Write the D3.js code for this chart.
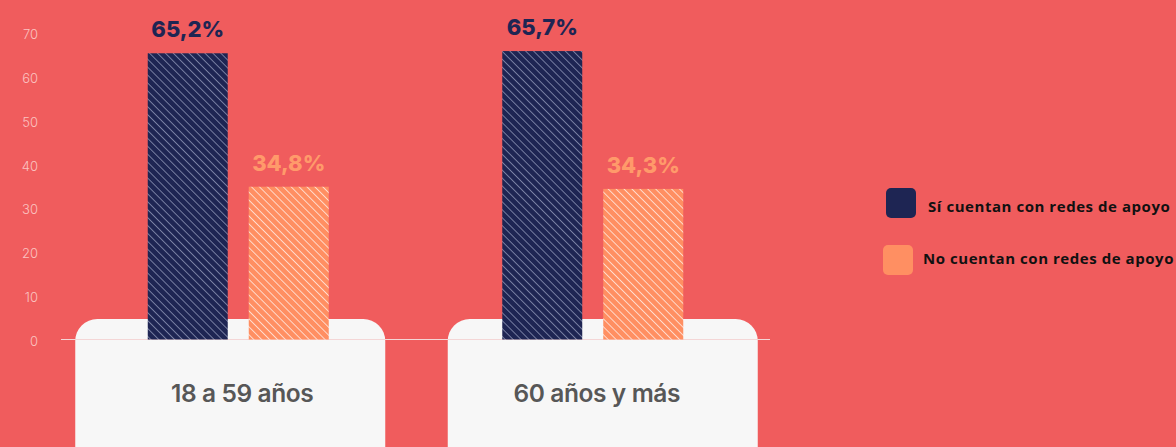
<!DOCTYPE html>
<html>
<head>
<meta charset="utf-8">
<script src="https://cdn.jsdelivr.net/npm/d3@7/dist/d3.min.js"></script>
<style>
  html, body { margin: 0; padding: 0; background: #f05c5d; }
  svg { display: block; }
</style>
</head>
<body>
<svg id="chart" width="1176" height="447"></svg>
<script>
// Age groups and the share of people with / without support networks (%)
const categories = ["18 a 59 años", "60 años y más"];
const seriesNames = ["Sí cuentan con redes de apoyo", "No cuentan con redes de apoyo"];
const siValues = [65.2, 65.7];
const noValues = [34.8, 34.3];
const valueLabels = [["65,2%", "34,8%"], ["65,7%", "34,3%"]];
const yTicks = [0, 10, 20, 30, 40, 50, 60, 70];

const W = 1176, H = 447;
const colors = { bg: "#f05c5d", navy: "#1e2553", orange: "#ff8f62", orangeText: "#ff9a6a",
                 card: "#f7f7f7", tick: "#fbc3c1" };
const font = "Inter, 'Open Sans', sans-serif";

const svg = d3.select("#chart");
svg.append("rect").attr("width", W).attr("height", H).attr("fill", colors.bg);

// Hatch patterns for the bars
const defs = svg.append("defs");
function hatch(id, base, line) {
  const p = defs.append("pattern").attr("id", id)
    .attr("patternUnits", "userSpaceOnUse")
    .attr("width", 5.6).attr("height", 5.6)
    .attr("patternTransform", "rotate(-45)");
  p.append("rect").attr("width", 5.6).attr("height", 5.6).attr("fill", base);
  p.append("line").attr("x1", 0).attr("y1", 0).attr("x2", 0).attr("y2", 5.6)
    .attr("stroke", line).attr("stroke-width", 1.3);
}
hatch("hatch-navy", colors.navy, "#a3a9c8");
hatch("hatch-orange", colors.orange, "#ffffff");

const x0 = d3.scaleBand().domain(categories).range([61, 770]).padding(0);
const xCard = d3.scaleBand().domain(categories).range([44, 789]).padding(0);
const x1 = d3.scaleBand().domain([0, 1]).range([-90.5, 90.5]).paddingInner(0.208).paddingOuter(0);
const y = d3.scaleLinear().domain([0, 70]).range([339.5, 32.2]);

const rows = categories.map((c, i) => ({ cat: c, vals: [siValues[i], noValues[i]], labels: valueLabels[i] }));

// White cards under each group
svg.append("g").selectAll("rect").data(rows).join("rect")
  .attr("x", d => xCard(d.cat) + xCard.bandwidth() / 2 - 155)
  .attr("y", 319).attr("width", 310).attr("height", 170)
  .attr("rx", 22).attr("fill", colors.card);

// Y axis tick labels
const yAxis = d3.axisLeft(y).tickValues(yTicks).tickSize(0).tickPadding(0);
const ya = svg.append("g").attr("transform", "translate(38,2)").call(yAxis);
ya.select(".domain").remove();
ya.selectAll("text").attr("fill", colors.tick).attr("font-family", font)
  .attr("font-weight", 300).attr("font-size", 13);

// Baseline
svg.append("line").attr("x1", 61).attr("x2", 770).attr("y1", y(0)).attr("y2", y(0))
  .attr("stroke", "#f4d6d6").attr("stroke-width", 1);

// Bars
const fills = ["url(#hatch-navy)", "url(#hatch-orange)"];
const g = svg.append("g").selectAll("g").data(rows).join("g")
  .attr("transform", d => `translate(${x0(d.cat) + x0.bandwidth() / 2},0)`);

g.selectAll("rect").data(d => d.vals.map((v, j) => ({ v, j }))).join("rect")
  .attr("x", d => x1(d.j)).attr("width", x1.bandwidth())
  .attr("y", d => y(d.v)).attr("height", d => y(0) - y(d.v))
  .attr("fill", d => fills[d.j]);

// Value labels
g.selectAll("text.val").data(d => d.vals.map((v, j) => ({ v, j, t: d.labels[j] }))).join("text")
  .attr("class", "val")
  .attr("x", d => x1(d.j) + x1.bandwidth() / 2)
  .attr("y", d => y(d.v) - 16)
  .attr("text-anchor", "middle")
  .attr("font-family", font).attr("font-weight", 800).attr("font-size", 22)
  .attr("fill", d => d.j === 0 ? colors.navy : colors.orangeText)
  .text(d => d.t);

// Category labels
g.append("text").attr("x", 4).attr("y", 402).attr("text-anchor", "middle")
  .attr("font-family", font).attr("font-weight", 600).attr("font-size", 24.5)
  .attr("letter-spacing", -0.4)
  .attr("fill", "#575757").text(d => d.cat);

// Legend
const legend = svg.append("g").selectAll("g").data(seriesNames).join("g")
  .attr("transform", (d, i) => `translate(${i === 0 ? 886 : 883},${i === 0 ? 188 : 245})`);
legend.append("rect").attr("width", 30).attr("height", 30).attr("rx", 5)
  .attr("fill", (d, i) => i === 0 ? colors.navy : colors.orange);
legend.append("text").attr("x", (d, i) => i === 0 ? 42 : 40).attr("y", (d, i) => i === 0 ? 24 : 19)
  .attr("font-family", "'Open Sans', sans-serif").attr("font-weight", 700).attr("font-size", 15)
  .attr("letter-spacing", 0.55)
  .attr("fill", "#111").text(d => d);
</script>
</body>
</html>
